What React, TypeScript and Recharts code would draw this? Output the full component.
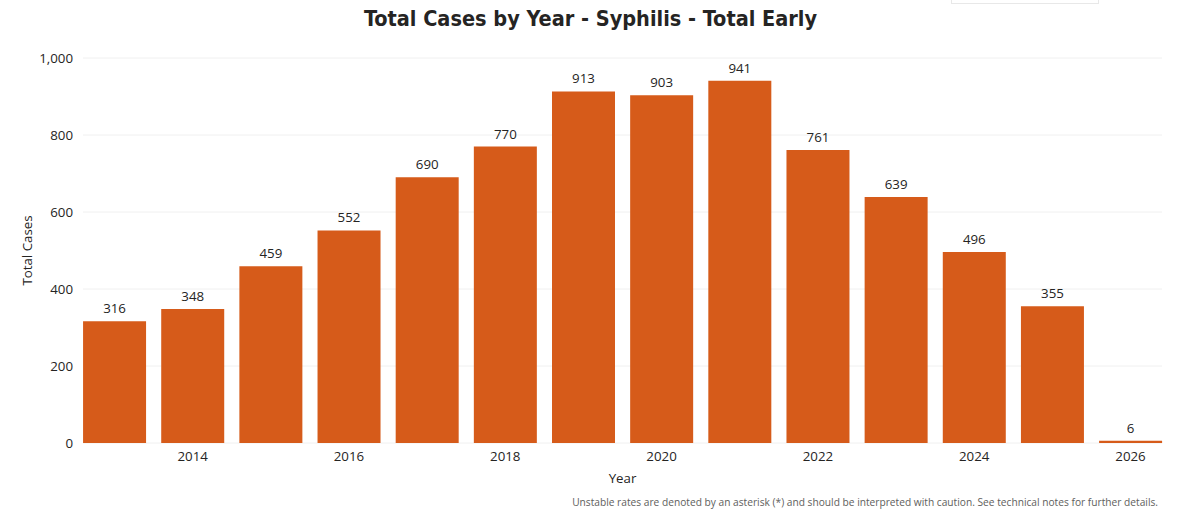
import { BarChart, Bar, XAxis, YAxis, CartesianGrid, LabelList } from "recharts";

const years = ["2013", "2014", "2015", "2016", "2017", "2018", "2019", "2020", "2021", "2022", "2023", "2024", "2025", "2026"];
const totalCases = [316, 348, 459, 552, 690, 770, 913, 903, 941, 761, 639, 496, 355, 6];
const yTicks = [0, 200, 400, 600, 800, 1000];

const data = years.map((year, i) => ({ year, cases: totalCases[i] }));

const FONT = "'Segoe UI', 'Open Sans', sans-serif";
const TEXT = "#252423";
const BAR = "#D65B1A";

export default function App() {
  return (
    <div style={{ position: "absolute", left: 0, top: 0, width: 1191, height: 527, background: "#fff", overflow: "hidden", fontFamily: FONT }}>
      <div
        style={{
          position: "absolute",
          left: 951,
          top: -30,
          width: 148,
          height: 34,
          border: "1px solid #e8e8e8",
          boxSizing: "border-box",
        }}
      />
      <div
        style={{
          position: "absolute",
          left: 0,
          top: 6,
          width: 1181,
          textAlign: "center",
          fontFamily: "'DejaVu Sans Condensed', 'DejaVu Sans', sans-serif",
          fontWeight: 700,
          fontSize: 21.5,
          color: "#252423",
        }}
      >
        Total Cases by Year - Syphilis - Total Early
      </div>
      <BarChart
        width={1191}
        height={527}
        data={data}
        margin={{ top: 58, right: 29, bottom: 44, left: 0 }}
        barCategoryGap="9.8%"
      >
        <CartesianGrid vertical={false} stroke="#f0f0f0" strokeWidth={1} />
        <XAxis
          dataKey="year"
          interval={0}
          height={40}
          tickLine={false}
          axisLine={false}
          padding={{ left: -7.6, right: -7.6 }}
          tickFormatter={(v: string) => (Number(v) % 2 === 0 ? v : "")}
          tick={{ fill: TEXT, fontSize: 13.3, fontFamily: FONT }}
          tickMargin={3}
          label={{ value: "Year", position: "insideBottom", offset: 0, fill: TEXT, fontSize: 13.3, fontFamily: FONT }}
        />
        <YAxis
          domain={[0, 1000]}
          ticks={yTicks}
          tickLine={false}
          axisLine={false}
          width={83}
          tickMargin={4}
          tickFormatter={(v: number) => v.toLocaleString("en-US")}
          tick={{ fill: TEXT, fontSize: 13.3, fontFamily: FONT }}
          label={{ value: "Total Cases", angle: -90, position: "insideLeft", offset: 27, fill: TEXT, fontSize: 13.3, fontFamily: FONT, style: { textAnchor: "middle" } }}
        />
        <Bar dataKey="cases" fill={BAR} isAnimationActive={false}>
          <LabelList dataKey="cases" position="top" offset={8} fill={TEXT} fontSize={13.3} fontFamily={FONT} />
        </Bar>
      </BarChart>
      <div
        style={{
          position: "absolute",
          right: 33,
          top: 495,
          fontSize: 10.2,
          color: "#605E5C",
          fontFamily: FONT,
          whiteSpace: "nowrap",
        }}
      >
        Unstable rates are denoted by an asterisk (*) and should be interpreted with caution. See technical notes for further details.
      </div>
    </div>
  );
}
